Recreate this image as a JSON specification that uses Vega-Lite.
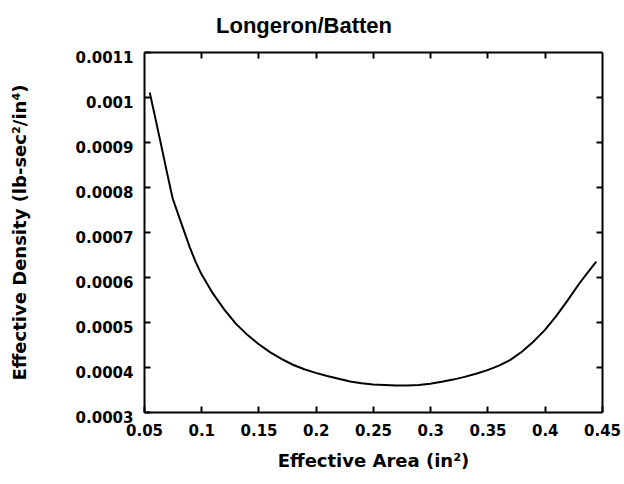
{
  "$schema": "https://vega.github.io/schema/vega-lite/v6.json",
  "autosize": "none",
  "width": 458,
  "height": 360,
  "padding": {"left": 144, "top": 52, "right": 22, "bottom": 72},
  "background": "white",
  "config": {"view": {"stroke": null}},
  "title": {
    "text": "Longeron/Batten",
    "font": "Liberation Sans",
    "fontSize": 22,
    "fontWeight": "bold",
    "anchor": "middle",
    "frame": "group",
    "dx": -69,
    "dy": 24,
    "baseline": "alphabetic",
    "offset": 19,
    "color": "black"
  },
  "data": {
    "values": [
      {"area": 0.055, "density": 0.00101},
      {"area": 0.06, "density": 0.000952},
      {"area": 0.065, "density": 0.000893},
      {"area": 0.07, "density": 0.000833},
      {"area": 0.075, "density": 0.000775},
      {"area": 0.08, "density": 0.000738},
      {"area": 0.085, "density": 0.000702},
      {"area": 0.09, "density": 0.000666},
      {"area": 0.095, "density": 0.000634},
      {"area": 0.1, "density": 0.000607},
      {"area": 0.11, "density": 0.000564},
      {"area": 0.12, "density": 0.000528},
      {"area": 0.13, "density": 0.000497},
      {"area": 0.14, "density": 0.000472},
      {"area": 0.15, "density": 0.000451},
      {"area": 0.16, "density": 0.000433},
      {"area": 0.17, "density": 0.000418},
      {"area": 0.18, "density": 0.000405},
      {"area": 0.19, "density": 0.000395},
      {"area": 0.2, "density": 0.000387},
      {"area": 0.21, "density": 0.00038},
      {"area": 0.22, "density": 0.000374},
      {"area": 0.23, "density": 0.000368},
      {"area": 0.24, "density": 0.000364},
      {"area": 0.25, "density": 0.000361},
      {"area": 0.26, "density": 0.00036},
      {"area": 0.27, "density": 0.000359},
      {"area": 0.28, "density": 0.000359},
      {"area": 0.29, "density": 0.00036},
      {"area": 0.3, "density": 0.000363},
      {"area": 0.31, "density": 0.000367},
      {"area": 0.32, "density": 0.000372},
      {"area": 0.33, "density": 0.000378},
      {"area": 0.34, "density": 0.000385},
      {"area": 0.35, "density": 0.000393},
      {"area": 0.36, "density": 0.000403},
      {"area": 0.37, "density": 0.000416},
      {"area": 0.38, "density": 0.000434},
      {"area": 0.39, "density": 0.000456},
      {"area": 0.4, "density": 0.000482},
      {"area": 0.41, "density": 0.000513},
      {"area": 0.42, "density": 0.000548},
      {"area": 0.43, "density": 0.000585},
      {"area": 0.44, "density": 0.000618},
      {"area": 0.445, "density": 0.000634}
    ]
  },
  "layer": [
    {
      "mark": {"type": "line", "color": "black", "strokeWidth": 2},
      "encoding": {
        "x": {
          "field": "area", "type": "quantitative",
          "scale": {"domain": [0.05, 0.45], "nice": false, "zero": false},
          "axis": {
            "orient": "bottom",
            "values": [0.05, 0.1, 0.15, 0.2, 0.25, 0.3, 0.35, 0.4, 0.45],
            "format": "~g",
            "grid": false,
            "domainColor": "black", "domainWidth": 2,
            "tickColor": "black", "tickWidth": 2, "tickSize": -6,
            "labelFont": "DejaVu Sans", "labelFontWeight": "bold", "labelFontSize": 15, "labelColor": "black",
            "labelPadding": 17,
            "labelFlush": false,
            "title": "Effective Area (in²)",
            "titleFont": "DejaVu Sans", "titleFontWeight": "bold", "titleFontSize": 18, "titleColor": "black",
            "titlePadding": 14
          }
        },
        "y": {
          "field": "density", "type": "quantitative",
          "scale": {"domain": [0.0003, 0.0011], "nice": false, "zero": false},
          "axis": {
            "orient": "left",
            "values": [0.0003, 0.0004, 0.0005, 0.0006, 0.0007, 0.0008, 0.0009, 0.001, 0.0011],
            "format": "~g",
            "grid": false,
            "domainColor": "black", "domainWidth": 2,
            "tickColor": "black", "tickWidth": 2, "tickSize": -6,
            "labelFont": "DejaVu Sans", "labelFontWeight": "bold", "labelFontSize": 15, "labelColor": "black",
            "labelPadding": 17,
            "labelOffset": 5,
            "labelFlush": false,
            "title": "Effective Density (lb-sec²/in⁴)",
            "titleFont": "DejaVu Sans", "titleFontWeight": "bold", "titleFontSize": 18, "titleColor": "black",
            "titlePadding": 46
          }
        }
      }
    },
    {
      "mark": {"type": "line", "opacity": 0},
      "encoding": {
        "x": {
          "field": "area", "type": "quantitative",
          "axis": {
            "orient": "top",
            "values": [0.1, 0.15, 0.2, 0.25, 0.3, 0.35, 0.4],
            "labels": false, "grid": false, "title": null,
            "domainColor": "black", "domainWidth": 2,
            "tickColor": "black", "tickWidth": 2, "tickSize": -6
          }
        },
        "y": {
          "field": "density", "type": "quantitative",
          "axis": {
            "orient": "right",
            "values": [0.0004, 0.0005, 0.0006, 0.0007, 0.0008, 0.0009, 0.001],
            "labels": false, "grid": false, "title": null,
            "domainColor": "black", "domainWidth": 2,
            "tickColor": "black", "tickWidth": 2, "tickSize": -6
          }
        }
      }
    }
  ],
  "resolve": {"axis": {"x": "independent", "y": "independent"}}
}
